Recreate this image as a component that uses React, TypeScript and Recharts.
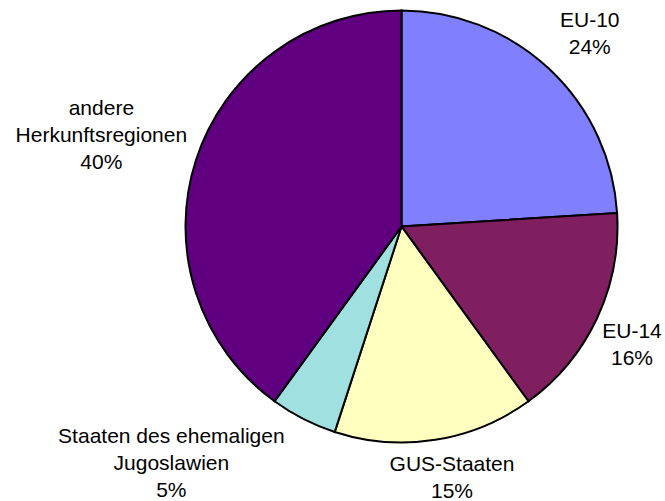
import { PieChart, Pie, Cell } from 'recharts';

const regions = ['EU-10', 'EU-14', 'GUS-Staaten', 'Staaten des ehemaligen Jugoslawien', 'andere Herkunftsregionen'];
const shares = [24, 16, 15, 5, 40];
const labelLines = [
  ['EU-10'],
  ['EU-14'],
  ['GUS-Staaten'],
  ['Staaten des ehemaligen', 'Jugoslawien'],
  ['andere', 'Herkunftsregionen'],
];

const colors = ['#8080FF', '#7F1F5F', '#FFFFC0', '#A0E0E0', '#600080'];
// how far each label sits outside the rim, and how much it is turned off the slice middle (deg, clockwise)
const labelExtra = [54, 42.5, 39.5, 113.5, 98];
const labelShift = [1, 1.7, -2.4, 17.3, -0.9];

const data = regions.map((name, i) => ({ name, value: shares[i] }));

const RAD = Math.PI / 180;
const LINE = 27;

function renderLabel(props: any) {
  const { cx, cy, midAngle, outerRadius, index, value } = props;
  const a = (midAngle - labelShift[index]) * RAD;
  const r = outerRadius + labelExtra[index];
  const x = cx + r * Math.cos(a);
  const y = cy - r * Math.sin(a);
  const lines = [...labelLines[index], `${value}%`];
  const top = y - ((lines.length - 1) * LINE) / 2;
  return (
    <text
      x={x}
      y={top}
      textAnchor="middle"
      dominantBaseline="central"
      fill="#000"
      fontSize={21}
      fontFamily="'Liberation Sans', Arial, sans-serif"
    >
      {lines.map((l, k) => (
        <tspan key={k} x={x} y={top + k * LINE}>
          {l}
        </tspan>
      ))}
    </text>
  );
}

export default function App() {
  return (
    <div style={{ position: 'absolute', left: 0, top: 0, background: '#fff' }}>
      <PieChart width={665} height={501} margin={{ top: 0, right: 0, bottom: 0, left: 0 }}>
        <Pie
          data={data}
          dataKey="value"
          cx={401.5}
          cy={226.5}
          outerRadius={216}
          startAngle={90}
          endAngle={-270}
          stroke="#000"
          strokeWidth={2}
          label={renderLabel}
          labelLine={false}
          isAnimationActive={false}
        >
          {data.map((d, i) => (
            <Cell key={d.name} fill={colors[i]} />
          ))}
        </Pie>
      </PieChart>
    </div>
  );
}
